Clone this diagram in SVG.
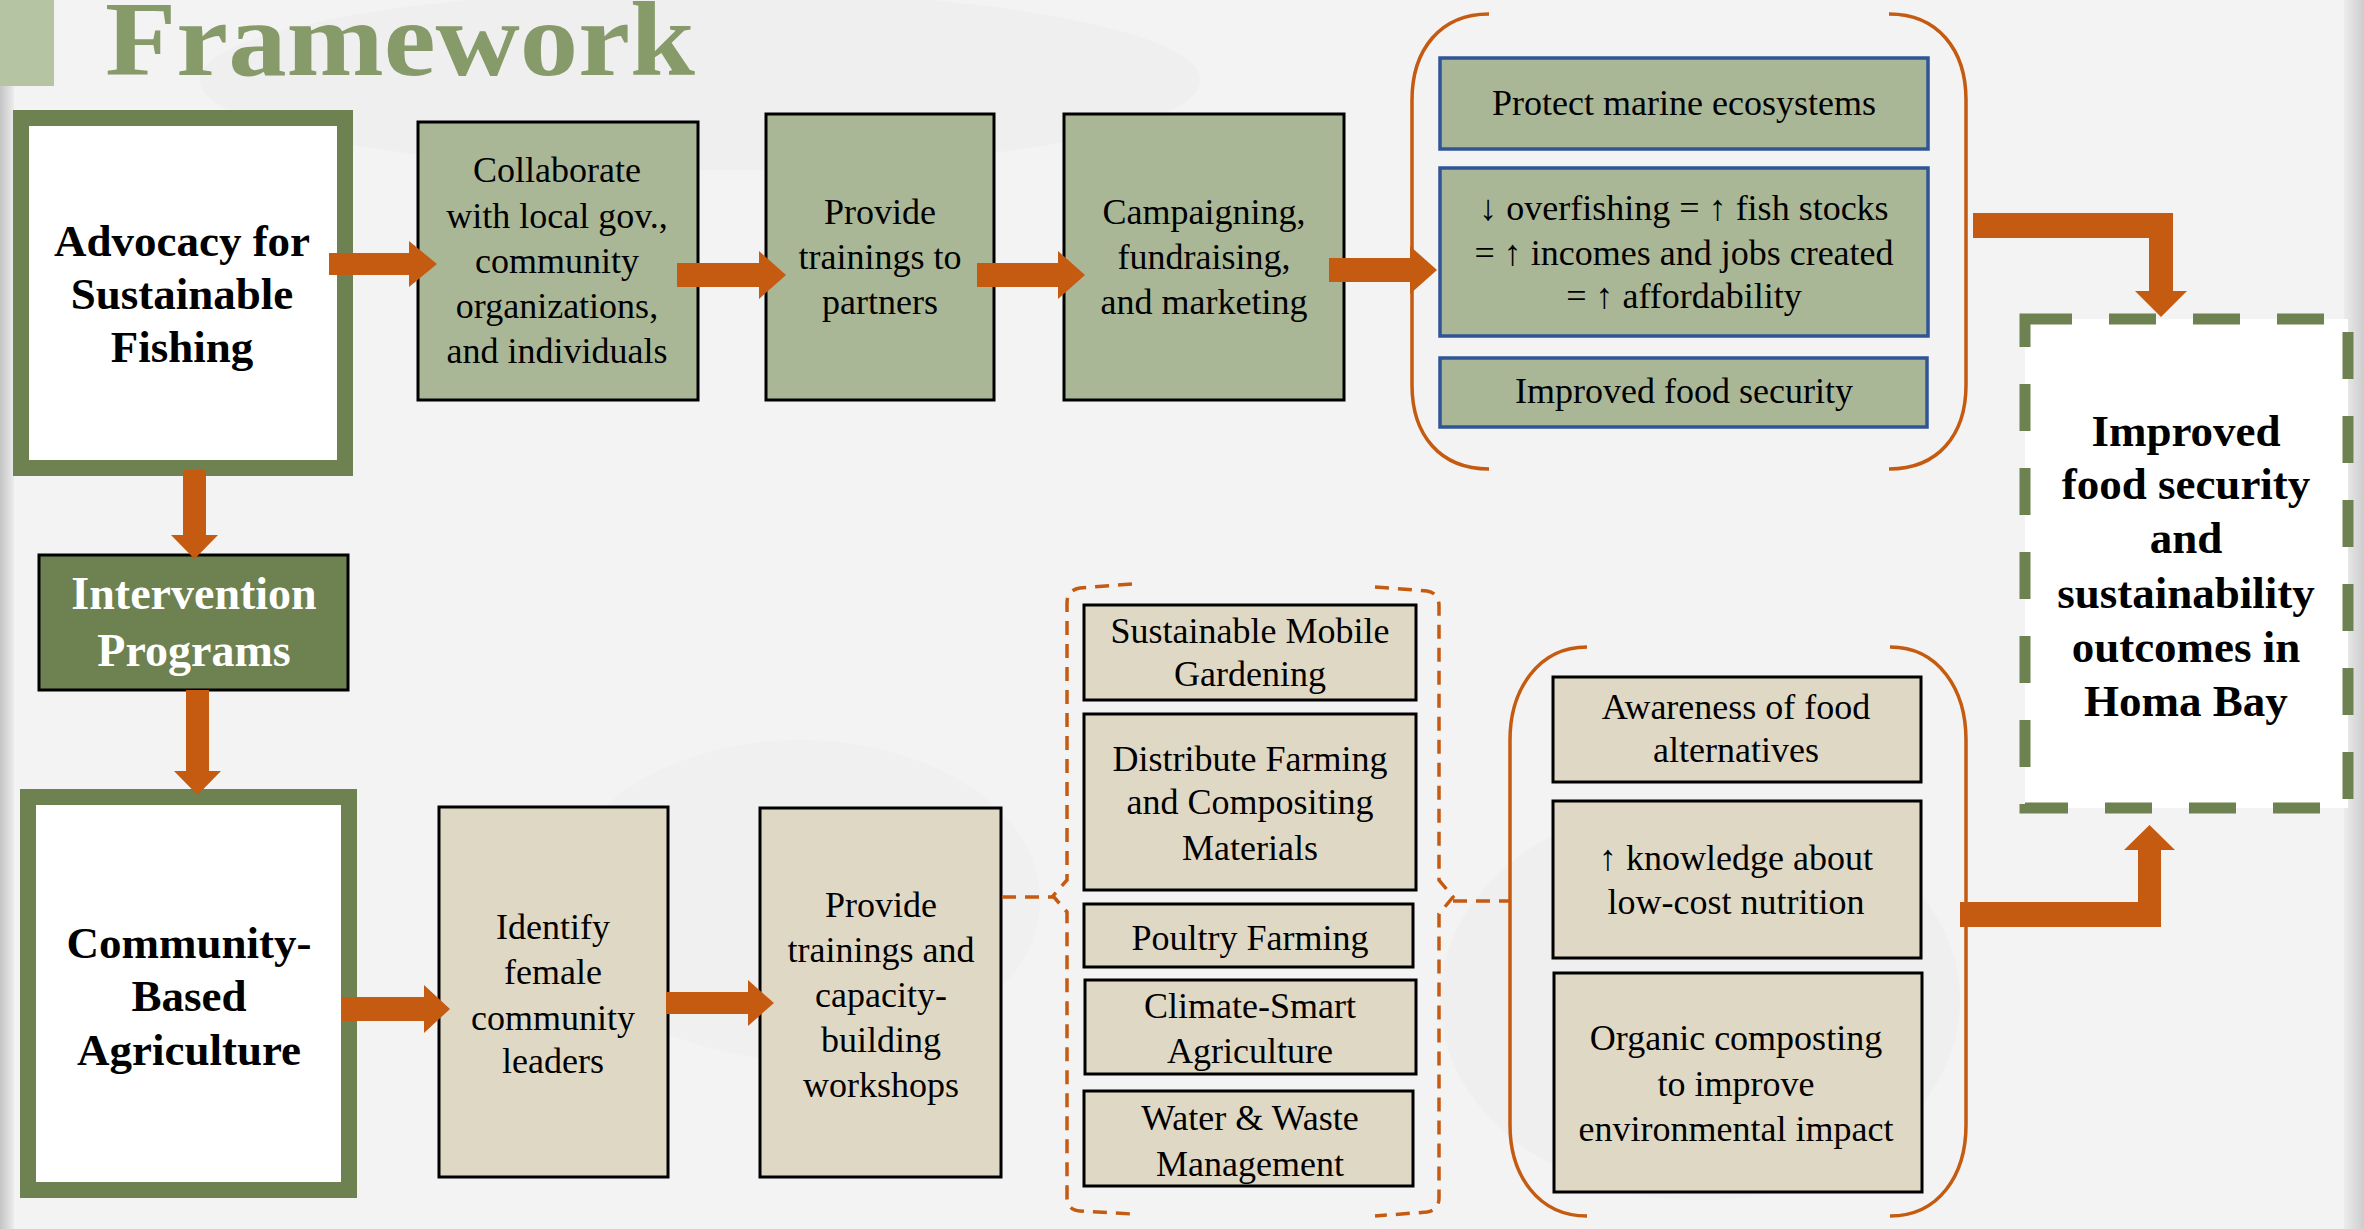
<svg xmlns="http://www.w3.org/2000/svg" width="2364" height="1229" viewBox="0 0 2364 1229">
<defs>
<style>
.t{font-family:"Liberation Serif","Times New Roman",serif;fill:#000;text-anchor:middle}
.r{font-size:36px}
.b{font-weight:bold}
.sage{fill:#aab797;stroke:#000;stroke-width:3}
.blue{fill:#aab797;stroke:#2f5597;stroke-width:3.5}
.beige{fill:#dfd8c4;stroke:#000;stroke-width:3}
.arr{fill:#c55a11}
.paren{fill:none;stroke:#c55a11;stroke-width:3.5}
.dash{fill:none;stroke:#c55a11;stroke-width:3.5;stroke-dasharray:14 9}
</style>
<linearGradient id="lg" x1="0" x2="1" y1="0" y2="0">
<stop offset="0" stop-color="#c4c4c4"/><stop offset="1" stop-color="#ececec"/>
</linearGradient>
<linearGradient id="rg" x1="0" x2="1" y1="0" y2="0">
<stop offset="0" stop-color="#ececec"/><stop offset="1" stop-color="#cdcdcd"/>
</linearGradient>
</defs>

<g id="background">
<rect x="0" y="0" width="2364" height="1229" fill="#f3f3f3"/>
<ellipse cx="700" cy="80" rx="500" ry="90" fill="#ebebeb" opacity="0.5"/>
<ellipse cx="1700" cy="1000" rx="260" ry="200" fill="#ececec" opacity="0.5"/>
<ellipse cx="800" cy="900" rx="240" ry="160" fill="#ebebeb" opacity="0.4"/>
<rect x="0" y="86" width="14" height="1143" fill="url(#lg)"/>
<rect x="2344" y="0" width="20" height="1229" fill="url(#rg)"/>
</g>

<g id="title">
<rect x="0" y="0" width="54" height="86" fill="#b5c4a3"/>
<text x="105" y="75" font-family="'Liberation Serif','Times New Roman',serif" font-weight="bold" font-size="106" fill="#869b69" textLength="590" lengthAdjust="spacingAndGlyphs">Framework</text>
</g>

<g id="advocacy">
<rect x="21" y="118" width="324" height="350" fill="#fff" stroke="#6e8150" stroke-width="16"/>
<text class="t b" font-size="45"><tspan x="182" y="256">Advocacy for</tspan><tspan x="182" y="309">Sustainable</tspan><tspan x="182" y="362">Fishing</tspan></text>
</g>

<g id="collaborate">
<rect class="sage" x="418" y="122" width="280" height="278"/>
<text class="t r"><tspan x="557" y="182">Collaborate</tspan><tspan x="557" y="228">with local gov.,</tspan><tspan x="557" y="273">community</tspan><tspan x="557" y="318">organizations,</tspan><tspan x="557" y="363">and individuals</tspan></text>
</g>

<g id="provide-partners">
<rect class="sage" x="766" y="114" width="228" height="286"/>
<text class="t r"><tspan x="880" y="224">Provide</tspan><tspan x="880" y="269">trainings  to</tspan><tspan x="880" y="314">partners</tspan></text>
</g>

<g id="campaigning">
<rect class="sage" x="1064" y="114" width="280" height="286"/>
<text class="t r"><tspan x="1204" y="224">Campaigning,</tspan><tspan x="1204" y="269">fundraising,</tspan><tspan x="1204" y="314">and marketing</tspan></text>
</g>

<g id="fishing-outcomes">
<path class="paren" d="M1489,14 C1440,14 1412,50 1412,100 L1412,385 C1412,435 1440,469 1489,469"/>
<path class="paren" d="M1889,14 C1938,14 1966,50 1966,100 L1966,385 C1966,435 1938,469 1889,469"/>
<rect class="blue" x="1440" y="58" width="488" height="91"/>
<text class="t r" x="1684" y="115">Protect marine ecosystems</text>
<rect class="blue" x="1440" y="168" width="488" height="168"/>
<text class="t r"><tspan x="1684" y="220">↓ overfishing = ↑ fish stocks</tspan><tspan x="1684" y="265">= ↑ incomes and jobs created</tspan><tspan x="1684" y="308">= ↑ affordability</tspan></text>
<rect class="blue" x="1440" y="358" width="487" height="69"/>
<text class="t r" x="1684" y="403">Improved food security</text>
</g>

<g id="final-outcome">
<rect x="2025" y="319" width="323" height="489" fill="#fff" stroke="#6e8150" stroke-width="11" stroke-dasharray="47 37"/>
<text class="t b" font-size="45"><tspan x="2186" y="446">Improved</tspan><tspan x="2186" y="499">food security</tspan><tspan x="2186" y="553">and</tspan><tspan x="2186" y="608">sustainability</tspan><tspan x="2186" y="662">outcomes in</tspan><tspan x="2186" y="716">Homa Bay</tspan></text>
</g>

<g id="intervention">
<rect x="39" y="555" width="309" height="135" fill="#6e8150" stroke="#000" stroke-width="3"/>
<text class="t b" font-size="46" style="fill:#fff"><tspan x="194" y="609">Intervention</tspan><tspan x="194" y="666">Programs</tspan></text>
</g>

<g id="community-agriculture">
<rect x="28" y="797" width="321" height="393" fill="#fff" stroke="#6e8150" stroke-width="16"/>
<text class="t b" font-size="45"><tspan x="189" y="958">Community-</tspan><tspan x="189" y="1011">Based</tspan><tspan x="189" y="1065">Agriculture</tspan></text>
</g>

<g id="identify">
<rect class="beige" x="439" y="807" width="229" height="370"/>
<text class="t r"><tspan x="553" y="939">Identify</tspan><tspan x="553" y="984">female</tspan><tspan x="553" y="1030">community</tspan><tspan x="553" y="1073">leaders</tspan></text>
</g>

<g id="provide-workshops">
<rect class="beige" x="760" y="808" width="241" height="369"/>
<text class="t r"><tspan x="881" y="917">Provide</tspan><tspan x="881" y="962">trainings and</tspan><tspan x="881" y="1007">capacity-</tspan><tspan x="881" y="1052">building</tspan><tspan x="881" y="1097">workshops</tspan></text>
</g>

<g id="activities">
<path class="dash" d="M1132,584 L1080,588 Q1067,590 1067,603 L1067,880 L1053,896 L1067,912 L1067,1197 Q1067,1210 1080,1211 L1132,1214"/>
<path class="dash" d="M1375,587 L1427,591 Q1439,593 1439,606 L1439,880 L1453,897 L1439,914 L1439,1198 Q1439,1210 1427,1212 L1375,1216"/>
<rect class="beige" x="1084" y="605" width="332" height="95"/>
<text class="t r"><tspan x="1250" y="643">Sustainable Mobile</tspan><tspan x="1250" y="686">Gardening</tspan></text>
<rect class="beige" x="1084" y="714" width="332" height="176"/>
<text class="t r"><tspan x="1250" y="771">Distribute Farming</tspan><tspan x="1250" y="814">and Compositing</tspan><tspan x="1250" y="860">Materials</tspan></text>
<rect class="beige" x="1084" y="904" width="329" height="63"/>
<text class="t r" x="1250" y="950">Poultry Farming</text>
<rect class="beige" x="1085" y="980" width="331" height="94"/>
<text class="t r"><tspan x="1250" y="1018">Climate-Smart</tspan><tspan x="1250" y="1063">Agriculture</tspan></text>
<rect class="beige" x="1084" y="1091" width="329" height="95"/>
<text class="t r"><tspan x="1250" y="1130">Water &amp; Waste</tspan><tspan x="1250" y="1176">Management</tspan></text>
</g>

<g id="agriculture-outcomes">
<path class="paren" d="M1587,647 C1538,647 1510,690 1510,740 L1510,1125 C1510,1175 1538,1216 1587,1216"/>
<path class="paren" d="M1890,647 C1939,647 1966,690 1966,740 L1966,1125 C1966,1175 1939,1216 1890,1216"/>
<rect class="beige" x="1553" y="677" width="368" height="105"/>
<text class="t r"><tspan x="1736" y="719">Awareness of food</tspan><tspan x="1736" y="762">alternatives</tspan></text>
<rect class="beige" x="1553" y="801" width="368" height="157"/>
<text class="t r"><tspan x="1736" y="870">↑ knowledge about</tspan><tspan x="1736" y="914">low-cost nutrition</tspan></text>
<rect class="beige" x="1554" y="973" width="368" height="219"/>
<text class="t r"><tspan x="1736" y="1050">Organic composting</tspan><tspan x="1736" y="1096">to improve</tspan><tspan x="1736" y="1141">environmental impact</tspan></text>
</g>

<g id="connectors">
<polygon class="arr" points="329,253 409,253 409,241 437,264 409,287 409,275 329,275"/>
<polygon class="arr" points="677,263 759,263 759,251 786,275 759,299 759,287 677,287"/>
<polygon class="arr" points="977,263 1058,263 1058,251 1085,275 1058,299 1058,287 977,287"/>
<polygon class="arr" points="1329,258 1410,258 1410,246 1437,270 1410,294 1410,282 1329,282"/>
<polygon class="arr" points="1973,213 2173,213 2173,291 2187,291 2161,317 2135,291 2149,291 2149,238 1973,238"/>
<polygon class="arr" points="183,470 206,470 206,535 218,535 194.5,559 171,535 183,535"/>
<polygon class="arr" points="186,690 209,690 209,771 221,771 197.5,795 174,771 186,771"/>
<polygon class="arr" points="342,997 424,997 424,985 450,1009 424,1033 424,1021 342,1021"/>
<polygon class="arr" points="666,992 748,992 748,980 774,1003 748,1026 748,1014 666,1014"/>
<polygon class="arr" points="1960,927 2161,927 2161,850 2175,850 2149.5,825 2124,850 2138,850 2138,902 1960,902"/>
<path class="dash" d="M1002,897 L1053,897"/>
<path class="dash" d="M1453,901 L1510,901"/>
</g>
</svg>
